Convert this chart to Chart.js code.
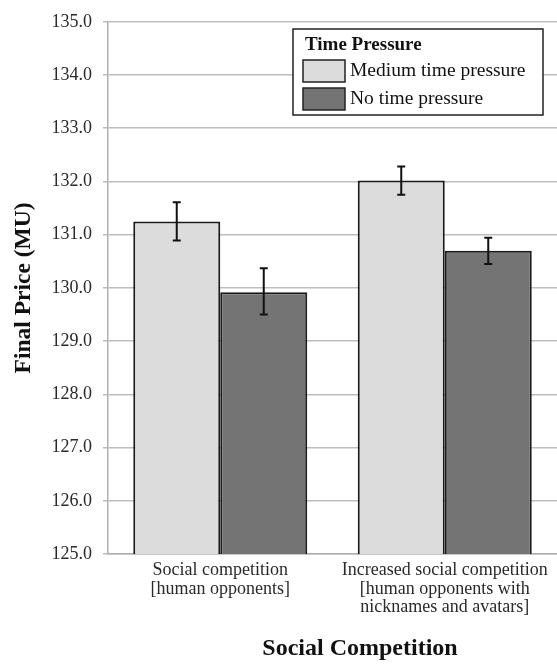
<!DOCTYPE html>
<html>
<head>
<meta charset="utf-8">
<script src="https://cdn.jsdelivr.net/npm/chart.js@4.4.1/dist/chart.umd.min.js"></script>
<style>
html,body{margin:0;padding:0;background:#fff;}
#wrap{width:557px;height:667px;position:relative;}
</style>
</head>
<body>
<div id="wrap"><canvas id="c" width="557" height="667"></canvas></div>
<script>
const categories = [
  ["Social competition", "[human opponents]"],
  ["Increased social competition", "[human opponents with", "nicknames and avatars]"]
];
const seriesNames = ["Medium time pressure", "No time pressure"];
const mediumValues = [131.25, 132.02];
const noneValues = [129.92, 130.70];
const mediumErrLow = [130.89, 131.75];
const mediumErrHigh = [131.61, 132.28];
const noneErrLow = [129.50, 130.45];
const noneErrHigh = [130.37, 130.94];
const legendTitle = "Time Pressure";
const yTitle = "Final Price (MU)";
const xTitle = "Social Competition";

const SERIF = "'Liberation Serif', 'Times New Roman', serif";
const fillColors = ["#dcdcdc", "#747474"];
const errors = [[mediumErrLow, mediumErrHigh], [noneErrLow, noneErrHigh]];

const errorBarPlugin = {
  id: 'errorBars',
  afterDatasetsDraw(chart) {
    const ctx = chart.ctx;
    const y = chart.scales.y;
    ctx.save();
    ctx.strokeStyle = '#111';
    ctx.lineWidth = 2;
    chart.data.datasets.forEach((ds, di) => {
      const meta = chart.getDatasetMeta(di);
      meta.data.forEach((bar, i) => {
        const x = bar.x;
        const yl = y.getPixelForValue(errors[di][0][i]);
        const yh = y.getPixelForValue(errors[di][1][i]);
        ctx.beginPath();
        ctx.moveTo(x, yl); ctx.lineTo(x, yh);
        ctx.moveTo(x - 4, yl); ctx.lineTo(x + 4, yl);
        ctx.moveTo(x - 4, yh); ctx.lineTo(x + 4, yh);
        ctx.stroke();
      });
    });
    ctx.restore();
  }
};

const legendPlugin = {
  id: 'boxLegend',
  afterDraw(chart) {
    const ctx = chart.ctx;
    const bx = 293, by = 29, bw = 250, bh = 86;
    ctx.save();
    ctx.fillStyle = '#fff';
    ctx.fillRect(bx, by, bw, bh);
    ctx.strokeStyle = '#222';
    ctx.lineWidth = 1.5;
    ctx.strokeRect(bx, by, bw, bh);
    ctx.fillStyle = '#111';
    ctx.textBaseline = 'middle';
    ctx.textAlign = 'left';
    ctx.font = "bold 19px " + SERIF;
    ctx.fillText(legendTitle, bx + 12, by + 16);
    ctx.font = "19.5px " + SERIF;
    chart.data.datasets.forEach((ds, i) => {
      const sy = by + 31 + i * 28;
      ctx.fillStyle = ds.backgroundColor;
      ctx.fillRect(bx + 10, sy, 42, 22);
      ctx.strokeStyle = '#222';
      ctx.lineWidth = 1.5;
      ctx.strokeRect(bx + 10, sy, 42, 22);
      ctx.fillStyle = '#111';
      ctx.fillText(ds.label, bx + 57, sy + 11);
    });
    // x-axis title
    ctx.font = "bold 24px " + SERIF;
    ctx.textAlign = 'center';
    ctx.fillText(xTitle, 360, 649);
    ctx.restore();
  }
};

new Chart(document.getElementById('c'), {
  type: 'bar',
  data: {
    labels: categories,
    datasets: [
      { label: seriesNames[0], data: mediumValues, backgroundColor: fillColors[0], borderColor: '#1a1a1a', borderWidth: 2, borderSkipped: false },
      { label: seriesNames[1], data: noneValues, backgroundColor: fillColors[1], borderColor: '#1a1a1a', borderWidth: 2, borderSkipped: false }
    ]
  },
  options: {
    responsive: false,
    animation: false,
    devicePixelRatio: 1,
    layout: { padding: { top: 15, right: 0, left: 0, bottom: 0 } },
    datasets: { bar: { categoryPercentage: 0.775, barPercentage: 1.0 } },
    plugins: { legend: { display: false }, tooltip: { enabled: false } },
    scales: {
      x: {
        grid: { display: false, drawTicks: false },
        border: { display: true, color: '#b0b0b0', width: 1.5 },
        ticks: { color: '#2a2a2a', font: { family: SERIF, size: 18, lineHeight: 1.03 }, padding: 7, maxRotation: 0, autoSkip: false },
        title: { display: false },
        afterFit(scale) { scale.height = 113; }
      },
      y: {
        min: 125, max: 135,
        grid: { color: '#bdbdbd', lineWidth: 1.5, tickLength: 5, drawTicks: true },
        border: { display: true, color: '#b0b0b0', width: 1.5 },
        ticks: { stepSize: 1, color: '#2a2a2a', font: { family: SERIF, size: 18 }, padding: 11, callback: v => Number(v).toFixed(1) },
        title: { display: true, text: yTitle, color: '#111', font: { family: SERIF, size: 23.5, weight: 'bold' }, padding: { top: 10, bottom: 0 } },
        afterFit(scale) { scale.width = 108; }
      }
    }
  },
  plugins: [errorBarPlugin, legendPlugin]
});
</script>
</body>
</html>
